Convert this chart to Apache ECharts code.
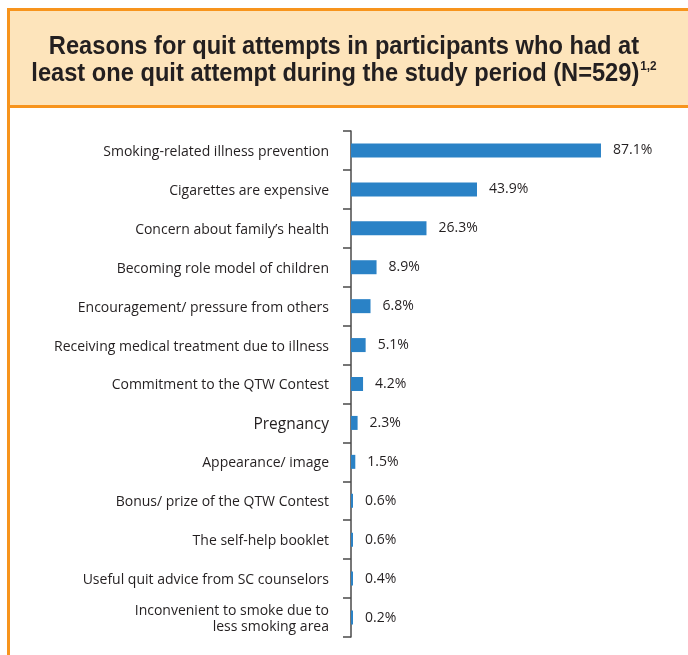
<!DOCTYPE html>
<html>
<head>
<meta charset="utf-8">
<script src="https://cdn.jsdelivr.net/npm/echarts@6/dist/echarts.min.js"></script>
<style>
  html, body { margin: 0; padding: 0; background: #ffffff; }
  #chart { width: 688px; height: 655px; }
</style>
</head>
<body>
<div id="chart"></div>
<script>
// Reasons reported for quit attempts (% of participants, N=529)
const categories = [
  'Smoking-related illness prevention',
  'Cigarettes are expensive',
  'Concern about family\u2019s health',
  'Becoming role model of children',
  'Encouragement/ pressure from others',
  'Receiving medical treatment due to illness',
  'Commitment to the QTW Contest',
  'Pregnancy',
  'Appearance/ image',
  'Bonus/ prize of the QTW Contest',
  'The self-help booklet',
  'Useful quit advice from SC counselors',
  'Inconvenient to smoke due to\nless smoking area'
];
const percentages = [87.1, 43.9, 26.3, 8.9, 6.8, 5.1, 4.2, 2.3, 1.5, 0.6, 0.6, 0.4, 0.2];
const titleLines = [
  'Reasons for quit attempts in participants who had at',
  'least one quit attempt during the study period (N=529)'
];
const titleSup = '1,2';

const ORANGE = '#f7941d';
const PEACH = '#fde4bb';
const BAR = '#2a82c6';
const INK = '#231f20';
const TITLE_FONT = '"Liberation Sans", Arial, sans-serif';
const BODY_FONT = '"Open Sans", "Noto Sans", sans-serif';

const chart = echarts.init(document.getElementById('chart'), null, { renderer: 'canvas' });

chart.setOption({
  backgroundColor: '#ffffff',
  animation: false,
  graphic: [
    // header panel
    { type: 'rect', z: 0, shape: { x: 8, y: 9, width: 690, height: 97 },
      style: { fill: PEACH } },
    // frame: top, left, header divider
    { type: 'rect', z: 1, shape: { x: 7, y: 8, width: 690, height: 3 }, style: { fill: ORANGE } },
    { type: 'rect', z: 1, shape: { x: 7, y: 8, width: 3, height: 660 }, style: { fill: ORANGE } },
    { type: 'rect', z: 1, shape: { x: 7, y: 105, width: 690, height: 3 }, style: { fill: ORANGE } },
    // condensed bold heading
    {
      type: 'text', z: 2,
      x: 344, y: 60,
      scaleX: 0.91,
      style: {
        text: '{t|' + titleLines[0] + '}\n{t|' + titleLines[1] + '}{s|' + titleSup + '}',
        align: 'center',
        verticalAlign: 'middle',
        rich: {
          t: { fontFamily: TITLE_FONT, fontWeight: 'bold', fontSize: 26, lineHeight: 27, fill: INK },
          s: { fontFamily: TITLE_FONT, fontWeight: 'bold', fontSize: 13, lineHeight: 27,
               verticalAlign: 'top', padding: [0, 0, 12, 1], fill: INK }
        }
      }
    }
  ],
  grid: {
    left: 351,
    right: 50,
    top: 131,
    bottom: 18,
    containLabel: false
  },
  xAxis: {
    type: 'value',
    min: 0,
    max: 100,
    show: false
  },
  yAxis: {
    type: 'category',
    inverse: true,
    data: categories,
    axisLine: { show: true, lineStyle: { color: '#4a4a4a', width: 1.5 } },
    axisTick: { show: true, length: 8, lineStyle: { color: '#4a4a4a', width: 1.5 } },
    axisLabel: {
      margin: 22,
      fontFamily: BODY_FONT,
      fontSize: 14,
      lineHeight: 16,
      padding: [3, 0, 0, 0],
      color: INK,
      align: 'right',
      formatter: function (v) {
        return v === 'Pregnancy' ? '{big|' + v + '}' : v;
      },
      rich: {
        big: { fontFamily: BODY_FONT, fontSize: 15.5, color: INK }
      }
    },
    splitLine: { show: false }
  },
  series: [{
    type: 'bar',
    data: percentages,
    barWidth: 14,
    barMinHeight: 2,
    itemStyle: { color: BAR },
    label: {
      show: true,
      position: 'right',
      distance: 12,
      padding: [4, 0, 0, 0],
      fontFamily: BODY_FONT,
      fontSize: 14,
      color: INK,
      formatter: function (p) { return p.value.toFixed(1) + '%'; }
    }
  }]
});
</script>
</body>
</html>
